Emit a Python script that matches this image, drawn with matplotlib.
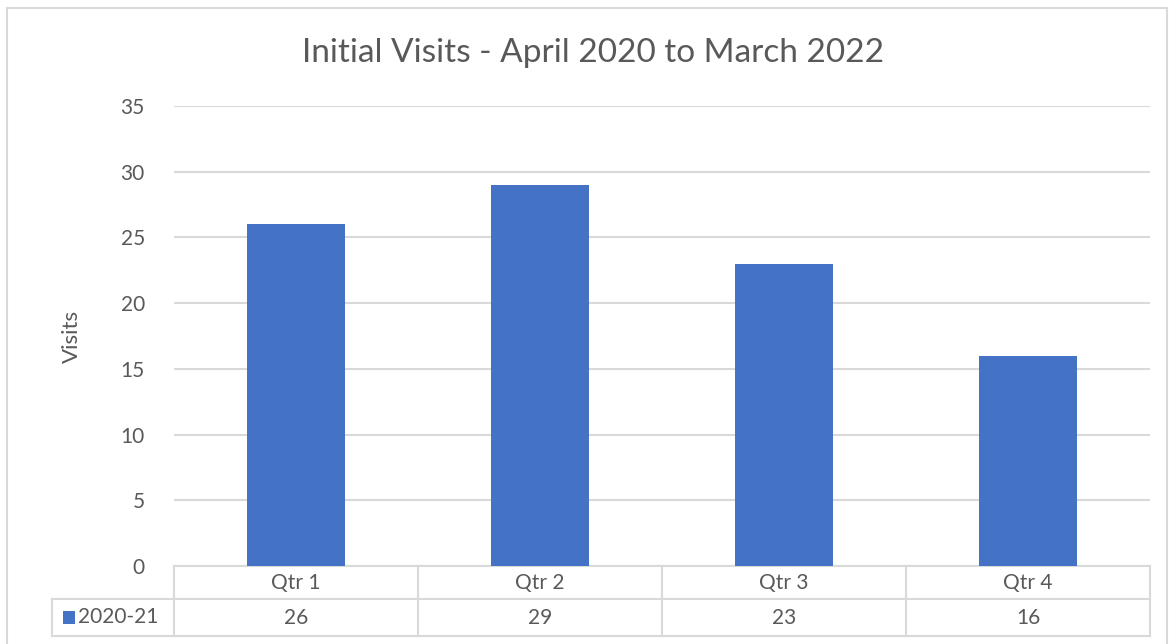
import matplotlib.pyplot as plt
from matplotlib.patches import Rectangle

# chart data
categories = ['Qtr 1', 'Qtr 2', 'Qtr 3', 'Qtr 4']
series_name = '2020-21'
visits = [26, 29, 23, 16]
y_ticks = [0, 5, 10, 15, 20, 25, 30, 35]

bar_color = '#4472C4'
text_color = '#595959'
line_color = '#D9D9D9'

plt.rcParams['font.family'] = ['Lato', 'DejaVu Sans']

W, H = 1170, 644
fig = plt.figure(figsize=(W / 100, H / 100), dpi=100)

# outer chart border
fig.patches.append(Rectangle((7 / W, -0.01), 1160 / W, 1 - 8 / H + 0.01,
                             transform=fig.transFigure, fill=False,
                             edgecolor=line_color, linewidth=1.5))

# plot area in pixel terms
left, right, top, bottom = 174, 1150, 106, 566
ax = fig.add_axes([left / W, 1 - bottom / H, (right - left) / W, (bottom - top) / H])

x = list(range(len(categories)))
ax.bar(x, visits, width=0.4, color=bar_color, zorder=3)

ax.set_xlim(-0.5, len(categories) - 0.5)
ax.set_ylim(0, 35)
ax.set_yticks(y_ticks)
ax.set_xticks([])
ax.tick_params(axis='y', length=0, pad=21, labelsize=15, labelcolor=text_color)
ax.yaxis.grid(True, color=line_color, linewidth=1.5, zorder=0)
for s in ax.spines.values():
    s.set_visible(False)

ax.set_ylabel('Visits', fontsize=16, color=text_color, labelpad=28)
fig.text(593 / W, 1 - 53 / H, 'Initial Visits - April 2020 to March 2022',
         ha='center', va='center', fontsize=24, color=text_color)

# data table under the plot area
tr = ax.get_xaxis_transform()
ph = bottom - top
r1 = -33 / ph
r2 = -70 / ph
lk = dict(color=line_color, linewidth=1.5, transform=tr, clip_on=False)
ax.plot([-0.5, 3.5], [0, 0], **lk)
ax.plot([-1.0, 3.5], [r1, r1], **lk)
ax.plot([-1.0, 3.5], [r2, r2], **lk)
for i in range(len(categories) + 1):
    ax.plot([i - 0.5, i - 0.5], [0, r2], **lk)
ax.plot([-1.0, -1.0], [r1, r2], **lk)

for i, (c, v) in enumerate(zip(categories, visits)):
    ax.text(i, r1 / 2, c, transform=tr, ha='center', va='center',
            fontsize=15, color=text_color)
    ax.text(i, (r1 + r2) / 2, str(v), transform=tr, ha='center', va='center',
            fontsize=15, color=text_color)

# legend key in the table
fig.patches.append(Rectangle((63 / W, 1 - 624 / H), 12 / W, 13 / H,
                             transform=fig.transFigure, facecolor=bar_color,
                             edgecolor='none'))
fig.text(78 / W, 1 - 617 / H, series_name, ha='left', va='center',
         fontsize=15, color=text_color)

fig.savefig('out.png', dpi=100)
